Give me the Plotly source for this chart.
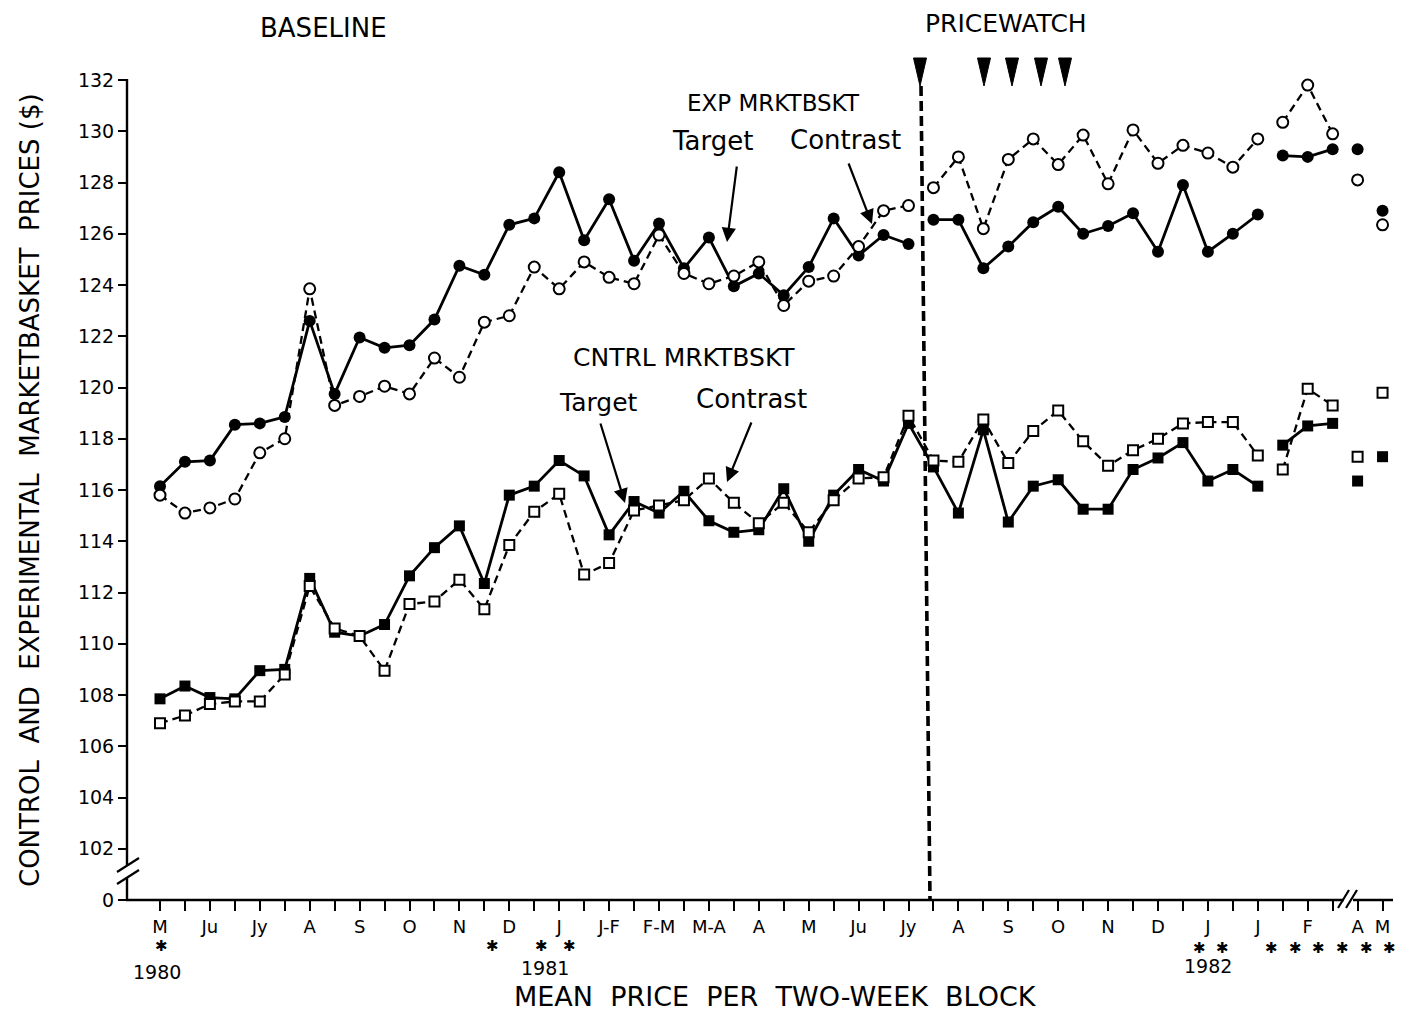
import plotly.graph_objects as go

# ---------------- data ----------------
months = ["M", "Ju", "Jy", "A", "S", "O", "N", "D", "J", "J-F", "F-M", "M-A",
          "A", "M", "Ju", "Jy", "A", "S", "O", "N", "D", "J", "J", "F"]
late_months = ["A", "M"]
block = list(range(50))

exp_target = [116.15, 117.1, 117.15, 118.55, 118.6, 118.85, 122.6, 119.75, 121.95, 121.55,
              121.65, 122.65, 124.75, 124.4, 126.35, 126.6, 128.4, 125.75, 127.35, 124.95,
              126.4, 124.65, 125.85, 123.95, 124.45, 123.6, 124.7, 126.6, 125.15, 125.95,
              125.6, 126.55, 126.55, 124.65, 125.5, 126.45, 127.05, 126.0, 126.3, 126.8,
              125.3, 127.9, 125.3, 126.0, 126.75, 129.05, 129.0, 129.3, 129.3, 126.9]
exp_contrast = [115.8, 115.1, 115.3, 115.65, 117.45, 118.0, 123.85, 119.3, 119.65, 120.05,
                119.75, 121.15, 120.4, 122.55, 122.8, 124.7, 123.85, 124.9, 124.3, 124.05,
                125.95, 124.45, 124.05, 124.35, 124.9, 123.2, 124.15, 124.35, 125.5, 126.9,
                127.1, 127.8, 129.0, 126.2, 128.9, 129.7, 128.7, 129.85, 127.95, 130.05,
                128.75, 129.45, 129.15, 128.6, 129.7, 130.35, 131.8, 129.9, 128.1, 126.35]
cntrl_target = [107.85, 108.35, 107.9, 107.85, 108.95, 109.0, 112.55, 110.45, 110.3, 110.75,
                112.65, 113.75, 114.6, 112.35, 115.8, 116.15, 117.15, 116.55, 114.25, 115.55,
                115.1, 115.95, 114.8, 114.35, 114.45, 116.05, 114.0, 115.8, 116.8, 116.35,
                118.6, 116.9, 115.1, 118.35, 114.75, 116.15, 116.4, 115.25, 115.25, 116.8,
                117.25, 117.85, 116.35, 116.8, 116.15, 117.75, 118.5, 118.6, 116.35, 117.3]
cntrl_contrast = [106.9, 107.2, 107.65, 107.75, 107.75, 108.8, 112.25, 110.6, 110.3, 108.95,
                  111.55, 111.65, 112.5, 111.35, 113.85, 115.15, 115.85, 112.7, 113.15, 115.2,
                  115.4, 115.6, 116.45, 115.5, 114.7, 115.5, 114.35, 115.6, 116.45, 116.5,
                  118.9, 117.15, 117.1, 118.75, 117.05, 118.3, 119.1, 117.9, 116.95, 117.55,
                  118.0, 118.6, 118.65, 118.65, 117.35, 116.8, 119.95, 119.3, 117.3, 119.8]

exp_segments = [(0, 30), (31, 44), (45, 47), (48, 48), (49, 49)]
cntrl_segments = [(0, 44), (45, 47), (48, 48), (49, 49)]

y_ticks = list(range(102, 133, 2))

# ---------------- layout geometry (page pixel coordinates) ----------------
OFF = 8                       # default body margin of the html page
W, H = 1413 - 2 * OFF, 1020 - 2 * OFF
L, R, T, B = 127, 1393, 80, 900
PX0, PXS = 160.0, 24.95      # page pixel of block 0, pixels per block


def P(xpx, ypx):
    return (xpx - L) / (R - L), (B - ypx) / (B - T)


def seg_xy(vals, segs):
    xs, ys = [], []
    for a, b in segs:
        xs += block[a:b + 1] + [None]
        ys += vals[a:b + 1] + [None]
    return xs, ys


fig = go.Figure()

x, y = seg_xy(exp_target, exp_segments)
fig.add_trace(go.Scatter(x=x, y=y, mode="lines+markers", cliponaxis=False,
                         line=dict(color="black", width=2.8),
                         marker=dict(symbol="circle", size=12, color="black")))
x, y = seg_xy(exp_contrast, exp_segments)
fig.add_trace(go.Scatter(x=x, y=y, mode="lines+markers", cliponaxis=False,
                         line=dict(color="black", width=2.3, dash="8px,5px"),
                         marker=dict(symbol="circle", size=11, color="white",
                                     line=dict(color="black", width=2))))
x, y = seg_xy(cntrl_target, cntrl_segments)
fig.add_trace(go.Scatter(x=x, y=y, mode="lines+markers", cliponaxis=False,
                         line=dict(color="black", width=2.8),
                         marker=dict(symbol="square", size=11, color="black")))
x, y = seg_xy(cntrl_contrast, cntrl_segments)
fig.add_trace(go.Scatter(x=x, y=y, mode="lines+markers", cliponaxis=False,
                         line=dict(color="black", width=2.3, dash="8px,5px"),
                         marker=dict(symbol="square", size=10, color="white",
                                     line=dict(color="black", width=2))))

tick_text = [""] * len(block)
for k, m in enumerate(months):
    tick_text[2 * k] = m
tick_text[48], tick_text[49] = late_months

FONT = "'DejaVu Sans', sans-serif"

shapes = []


def line(x0, y0, x1, y1, w=2.4, dash=None):
    a = P(x0, y0)
    b = P(x1, y1)
    d = dict(type="line", xref="paper", yref="paper", x0=a[0], y0=a[1], x1=b[0], y1=b[1],
             line=dict(color="black", width=w))
    if dash:
        d["line"]["dash"] = dash
    shapes.append(d)


# axis lines with breaks
line(127, 79, 127, 865)
line(127, 877, 127, 900)
line(117, 872, 139, 858, 2.2)
line(117, 884, 139, 870, 2.2)
line(126, 900, 1344, 900)
line(1353, 900, 1393, 900)
line(1338, 908, 1349, 890, 2.2)
line(1346, 908, 1357, 890, 2.2)
# phase-change line
line(921, 86, 930, 900, 3.6, "10px,5px")
# pricewatch arrowheads
for cx in [920, 984, 1012, 1041, 1065]:
    pts = [P(cx - 6.5, 58), P(cx + 6.5, 58), P(cx, 86)]
    path = "M {} {} L {} {} L {} {} Z".format(pts[0][0], pts[0][1], pts[1][0], pts[1][1],
                                              pts[2][0], pts[2][1])
    shapes.append(dict(type="path", xref="paper", yref="paper", path=path,
                       fillcolor="black", line=dict(color="black", width=1)))

annotations = []


def text(t, xpx, ypx, size, angle=0):
    px, py = P(xpx, ypx)
    annotations.append(dict(text=t, x=px, y=py, xref="paper", yref="paper",
                            xanchor="center", yanchor="middle", showarrow=False,
                            textangle=angle, font=dict(family=FONT, size=size, color="black")))


def arrow(tipx, tipy, tailx, taily):
    px, py = P(tipx, tipy)
    annotations.append(dict(text="", x=px, y=py, xref="paper", yref="paper",
                            ax=tailx - tipx, ay=taily - tipy, showarrow=True,
                            arrowhead=2, arrowsize=1.3, arrowwidth=2.2, arrowcolor="black"))


S2 = "\u00a0 "
text("BASELINE", 323, 28, 26)
text("PRICEWATCH", 1006, 24, 25)
text("EXP MRKTBSKT", 773, 103, 23)
text("Target", 712, 141, 26)
text("Contrast", 845, 140, 26)
text("CNTRL MRKTBSKT", 684, 357, 25)
text("Target", 598, 402, 25)
text("Contrast", 751, 399, 26)
text("CONTROL" + S2 + "AND" + S2 + "EXPERIMENTAL" + S2 + "MARKETBASKET" + S2 + "PRICES ($)",
     30, 490, 26, -90)
text("MEAN" + S2 + "PRICE" + S2 + "PER" + S2 + "TWO-WEEK" + S2 + "BLOCK", 775, 996, 27)
text("1980", 157, 972, 19)
text("1981", 545, 968, 19)
text("1982", 1208, 966, 19)
for ax_, ay_ in [(161, 946), (492, 946), (541, 946), (569, 946), (1199, 948), (1222, 948),
                 (1271, 948), (1295, 948), (1318, 948), (1342, 948), (1366, 948), (1389, 948)]:
    text("\u2731", ax_, ay_, 15)

arrow(727, 242, 737, 165)
arrow(872, 224, 848, 162)
arrow(625, 503, 600, 422)
arrow(727, 482, 752, 421)

fig.update_layout(
    width=W, height=H,
    margin=dict(l=L - OFF, r=W - (R - OFF), t=T - OFF, b=H - (B - OFF)),
    paper_bgcolor="white", plot_bgcolor="white",
    showlegend=False,
    font=dict(family=FONT, color="black"),
    xaxis=dict(range=[(L - PX0) / PXS, (R - PX0) / PXS], tickmode="array",
               tickvals=block, ticktext=tick_text, ticks="outside", ticklen=10,
               tickwidth=2, tickcolor="black", showline=False, showgrid=False,
               zeroline=False, tickfont=dict(size=18, family=FONT)),
    yaxis=dict(range=[100, 132], tickmode="array", tickvals=[100] + y_ticks,
               ticktext=["0"] + [str(v) for v in y_ticks], ticks="outside", ticklen=8,
               tickwidth=2, tickcolor="black", showline=False, showgrid=False,
               zeroline=False, tickfont=dict(size=19, family=FONT)),
    shapes=shapes,
    annotations=annotations,
)

fig.write_html("out.html")
